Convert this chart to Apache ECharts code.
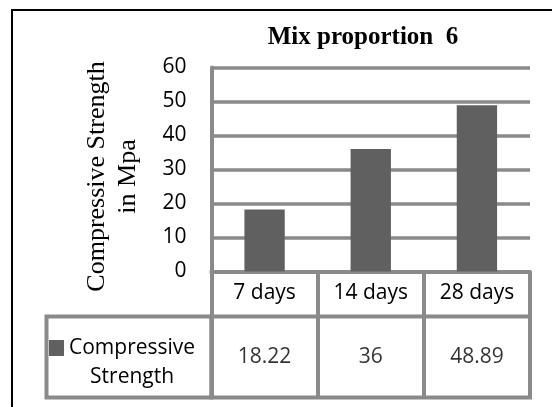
<!DOCTYPE html>
<html>
<head>
<meta charset="utf-8">
<script src="https://cdn.jsdelivr.net/npm/echarts@6/dist/echarts.min.js"></script>
<style>
  html, body { margin: 0; padding: 0; background: #fff; }
  #chart { width: 552px; height: 407px; }
</style>
</head>
<body>
<div id="chart"></div>
<script>
// Curing ages and measured compressive strength (MPa)
const ageLabels = ['7 days', '14 days', '28 days'];
const strengthMpa = [18.22, 36, 48.89];
const strengthLabels = ['18.22', '36', '48.89'];
const seriesName = 'Compressive Strength';
const chartTitle = 'Mix proportion  6';
const axisTitle = 'Compressive Strength\nin Mpa';
const yMin = 0, yMax = 60, yStep = 10;

// Layout (px)
const plotLeft = 211.5, plotRight = 530, plotTop = 67.5, plotBottom = 271.5;
const headerBottom = 316.5, tableBottom = 397.5, keyLeft = 46.5;

const gridGray = '#8a8a8a';
const barGray = '#606060';
const sansFont = 'Open Sans';
const serifFont = 'Liberation Serif';

const chart = echarts.init(document.getElementById('chart'), null, { renderer: 'canvas' });

chart.setOption({
  animation: false,
  backgroundColor: '#fff',
  title: {
    text: chartTitle,
    left: 358,
    top: 20,
    textAlign: 'center',
    textStyle: { fontFamily: serifFont, fontWeight: 'bold', fontSize: 25, color: '#000' }
  },
  legend: {
    data: [seriesName],
    left: 49,
    top: 308.5,
    padding: 0,
    icon: 'rect',
    itemWidth: 15,
    itemHeight: 16,
    selectedMode: false,
    formatter: function (name) {
      const parts = name.split(' ');
      return '{e| }\n{a|' + parts[0] + '}\n{b|' + parts[1] + '}';
    },
    textStyle: {
      color: '#000',
      rich: {
        e: { fontFamily: sansFont, fontSize: 21, lineHeight: 29 },
        a: { fontFamily: sansFont, fontSize: 21, lineHeight: 29, color: '#000' },
        b: { fontFamily: sansFont, fontSize: 21, lineHeight: 29, color: '#000', align: 'center' }
      }
    }
  },
  grid: [
    { left: plotLeft, top: plotTop, width: plotRight - plotLeft, height: plotBottom - plotTop },
    {
      left: plotLeft, top: headerBottom, width: plotRight - plotLeft, height: tableBottom - headerBottom,
      show: true, borderColor: gridGray, borderWidth: 4, backgroundColor: 'transparent'
    }
  ],
  xAxis: [
    {
      type: 'category',
      gridIndex: 0,
      data: ageLabels,
      boundaryGap: true,
      axisLine: { show: true, lineStyle: { color: gridGray, width: 4 } },
      axisTick: { show: true, alignWithLabel: false, interval: 0, length: headerBottom - plotBottom, lineStyle: { color: gridGray, width: 4 } },
      axisLabel: { interval: 0, margin: 10, color: '#000', fontFamily: sansFont, fontSize: 21, lineHeight: 24 },
      splitLine: { show: false }
    },
    {
      type: 'category',
      gridIndex: 1,
      data: ageLabels,
      boundaryGap: true,
      axisLine: { show: false },
      axisTick: { show: false },
      axisLabel: { show: false },
      splitLine: { show: true, interval: 0, lineStyle: { color: gridGray, width: 4 } }
    }
  ],
  yAxis: [
    {
      type: 'value',
      gridIndex: 0,
      min: yMin,
      max: yMax,
      interval: yStep,
      name: axisTitle,
      nameLocation: 'middle',
      nameGap: 68,
      nameRotate: 90,
      nameTextStyle: { fontFamily: serifFont, fontSize: 26, lineHeight: 31, color: '#000', padding: [0, 14, 0, 0] },
      axisLine: { show: true, lineStyle: { color: gridGray, width: 4 } },
      axisTick: { show: false },
      axisLabel: { margin: 25, color: '#000', fontFamily: sansFont, fontSize: 21 },
      splitLine: { show: true, lineStyle: { color: gridGray, width: 3.5 } }
    },
    {
      type: 'value',
      gridIndex: 1,
      min: 0,
      max: 1,
      show: false,
      splitLine: { show: false }
    }
  ],
  graphic: [
    {
      type: 'rect',
      silent: true,
      z: -1,
      shape: { x: 12, y: 10, width: 700, height: 600 },
      style: { fill: 'none', stroke: '#000', lineWidth: 2 }
    },
    {
      type: 'rect',
      silent: true,
      shape: { x: keyLeft, y: headerBottom, width: plotLeft - keyLeft, height: tableBottom - headerBottom },
      style: { fill: 'none', stroke: gridGray, lineWidth: 4 }
    }
  ],
  series: [
    {
      name: seriesName,
      type: 'bar',
      xAxisIndex: 0,
      yAxisIndex: 0,
      data: strengthMpa,
      barWidth: '38%',
      itemStyle: { color: barGray }
    },
    {
      name: 'tableValues',
      type: 'scatter',
      xAxisIndex: 1,
      yAxisIndex: 1,
      silent: true,
      symbolSize: 0,
      data: strengthMpa.map(function (v, i) { return [i, 0.5, v]; }),
      label: {
        show: true,
        position: 'inside',
        formatter: function (p) { return strengthLabels[p.dataIndex]; },
        color: '#000',
        fontFamily: sansFont,
        fontSize: 21
      }
    }
  ]
});
</script>
</body>
</html>
